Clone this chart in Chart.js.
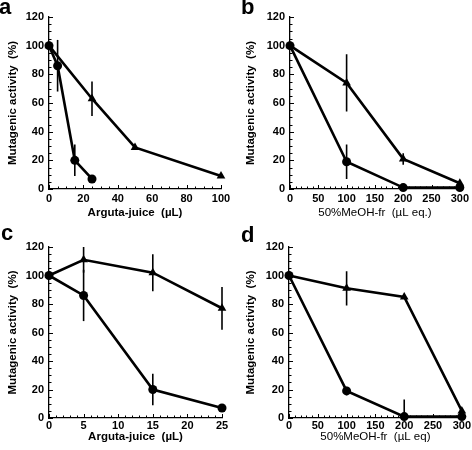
<!DOCTYPE html>
<html>
<head>
<meta charset="utf-8">
<script src="https://cdn.jsdelivr.net/npm/chart.js@4.4.1/dist/chart.umd.min.js"></script>
<style>
  body { margin: 0; background: #fff; }
  #wrap { position: relative; width: 472px; height: 450px; overflow: hidden; }
  canvas { position: absolute; }
  .tag { position: absolute; font: bold 22px "Liberation Sans", Arial, sans-serif; line-height: 22px; color: #000; }
</style>
</head>
<body>
<div id="wrap">
  <canvas id="chartA" width="236" height="225" style="left:0;top:0"></canvas>
  <canvas id="chartB" width="236" height="225" style="left:236px;top:0"></canvas>
  <canvas id="chartC" width="236" height="225" style="left:0;top:225px"></canvas>
  <canvas id="chartD" width="236" height="225" style="left:236px;top:225px"></canvas>
  <div class="tag" style="left:-1px;top:-4px">a</div>
  <div class="tag" style="left:241px;top:-4px">b</div>
  <div class="tag" style="left:1px;top:222px">c</div>
  <div class="tag" style="left:241px;top:224px">d</div>
</div>
<script>
// panel a - Arguta-juice
const aCircleX = [0, 5, 15, 25];
const aCircleY = [100, 86, 20, 7];
const aCircleErr = [0, 18, 11, 0];
const aTriX = [0, 25, 50, 100];
const aTriY = [100, 63, 29, 9];
const aTriErr = [0, 12, 0, 0];

// panel b - 50%MeOH-fr
const bDose = [0, 100, 200, 300];
const bCircleY = [100, 19, 1, 1];
const bCircleErr = [0, 12, 0, 0];
const bTriY = [100, 74, 21, 4];
const bTriErr = [0, 20, 4, 2];

// panel c - Arguta-juice
const cDose = [0, 5, 15, 25];
const cCircleY = [100, 86, 20, 7];
const cCircleErr = [0, 18, 11, 0];
const cTriY = [100, 111, 102, 77];
const cTriErr = [0, 9, 13, 15];

// panel d - 50%MeOH-fr
const dDose = [0, 100, 200, 300];
const dCircleY = [100, 19, 1, 1];
const dCircleErr = [0, 3, 12, 0];
const dTriY = [100, 91, 85, 5];
const dTriErr = [0, 12, 0, 0];

const yTicks = [0, 20, 40, 60, 80, 100, 120];
const yLabel = "Mutagenic activity  (%)";

const FONT = "'Liberation Sans', Arial, sans-serif";

function toPoints(xs, ys) {
    return xs.map((x, i) => ({ x: x, y: ys[i] }));
}

// vertical error bars, no caps
const errorBars = {
    id: "errorBars",
    afterDatasetsDraw(chart) {
        const ctx = chart.ctx;
        const area = chart.chartArea;
        const yScale = chart.scales.y;
        ctx.save();
        ctx.beginPath();
        ctx.rect(area.left - 2, area.top - 10, area.right - area.left + 10, area.bottom - area.top + 10);
        ctx.clip();
        ctx.strokeStyle = "#000";
        ctx.lineWidth = 1.6;
        chart.data.datasets.forEach((ds, di) => {
            const meta = chart.getDatasetMeta(di);
            ds.errors.forEach((err, i) => {
                if (!err) return;
                const p = meta.data[i];
                const v = ds.data[i].y;
                ctx.beginPath();
                ctx.moveTo(p.x, yScale.getPixelForValue(v + err));
                ctx.lineTo(p.x, yScale.getPixelForValue(v - err));
                ctx.stroke();
            });
        });
        ctx.restore();
    }
};

// small tick marks pointing into the plot
const innerTicks = {
    id: "innerTicks",
    afterDraw(chart, args, opts) {
        const ctx = chart.ctx;
        const xs = chart.scales.x;
        const ys = chart.scales.y;
        const area = chart.chartArea;
        ctx.save();
        ctx.strokeStyle = "#000";
        ctx.lineWidth = 1;
        for (let v = xs.min; v <= xs.max + 1e-9; v += opts.xMinor) {
            const major = Math.abs(v / opts.xMajor - Math.round(v / opts.xMajor)) < 1e-6;
            const px = Math.round(xs.getPixelForValue(v)) + 0.5;
            ctx.beginPath();
            ctx.moveTo(px, area.bottom);
            ctx.lineTo(px, area.bottom - (major ? 4 : 2.5));
            ctx.stroke();
        }
        for (let v = ys.min; v <= ys.max + 1e-9; v += opts.yMinor) {
            const major = v % 20 === 0;
            const py = Math.round(ys.getPixelForValue(v)) + 0.5;
            ctx.beginPath();
            ctx.moveTo(area.left, py);
            ctx.lineTo(area.left + (major ? 4 : 2.5), py);
            ctx.stroke();
        }
        ctx.restore();
    }
};

function makePanel(id, p) {
    const lineStyle = {
        showLine: true,
        borderColor: "#000",
        backgroundColor: "#000",
        borderWidth: 2.6,
        pointBorderWidth: 0,
        clip: false
    };

    return new Chart(document.getElementById(id), {
        type: "scatter",
        data: {
            datasets: [
                Object.assign({
                    label: "circle",
                    data: toPoints(p.circleX, p.circleY),
                    errors: p.circleErr,
                    pointStyle: "circle",
                    pointRadius: 4.5
                }, lineStyle),
                Object.assign({
                    label: "triangle",
                    data: toPoints(p.triX, p.triY),
                    errors: p.triErr,
                    pointStyle: "triangle",
                    pointRadius: 5
                }, lineStyle)
            ]
        },
        options: {
            responsive: false,
            animation: false,
            devicePixelRatio: 1,
            layout: { padding: { top: p.top, right: p.right, left: 0, bottom: 0 } },
            plugins: {
                legend: { display: false },
                tooltip: { enabled: false },
                innerTicks: { xMinor: p.xMinor, xMajor: p.xStep, yMinor: 5 }
            },
            scales: {
                x: {
                    type: "linear",
                    min: 0,
                    max: p.xMax,
                    afterFit: (s) => { s.height = p.xHeight; },
                    afterBuildTicks: (s) => { s.ticks = p.xTicks.map(v => ({ value: v })); },
                    grid: { display: false, drawTicks: false },
                    border: { display: true, color: "#000", width: 1.3 },
                    ticks: {
                        color: "#000",
                        padding: p.tickPad,
                        maxRotation: 0,
                        font: { family: FONT, size: 11, weight: "bold" }
                    },
                    title: {
                        display: true,
                        text: p.xTitle,
                        color: "#000",
                        padding: { top: 0, bottom: p.xTitlePad },
                        font: { family: FONT, size: 11.5, weight: p.xTitleWeight }
                    }
                },
                y: {
                    min: 0,
                    max: 120,
                    afterFit: (s) => { s.width = p.left; },
                    afterBuildTicks: (s) => { s.ticks = yTicks.map(v => ({ value: v })); },
                    grid: { display: false, drawTicks: false },
                    border: { display: true, color: "#000", width: 1.3 },
                    ticks: {
                        color: "#000",
                        padding: 5,
                        font: { family: FONT, size: 11, weight: "bold" }
                    },
                    title: {
                        display: true,
                        text: yLabel,
                        color: "#000",
                        padding: { top: p.yTitlePad, bottom: 0 },
                        font: { family: FONT, size: 11.5, weight: "bold" }
                    }
                }
            }
        },
        plugins: [errorBars, innerTicks]
    });
}

makePanel("chartA", {
    circleX: aCircleX, circleY: aCircleY, circleErr: aCircleErr,
    triX: aTriX, triY: aTriY, triErr: aTriErr,
    xMax: 100, xStep: 20, xMinor: 5, xTicks: [0, 20, 40, 60, 80, 100],
    xTitle: "Arguta-juice  (\u00b5L)", xTitleWeight: "bold",
    top: 17, right: 15, left: 49, xHeight: 36, tickPad: 3, xTitlePad: 5, yTitlePad: 6
});

makePanel("chartB", {
    circleX: bDose, circleY: bCircleY, circleErr: bCircleErr,
    triX: bDose, triY: bTriY, triErr: bTriErr,
    xMax: 300, xStep: 50, xMinor: 10, xTicks: [0, 50, 100, 150, 200, 250, 300],
    xTitle: "50%MeOH-fr  (\u00b5L eq.)", xTitleWeight: "normal",
    top: 17, right: 8, left: 54, xHeight: 36, tickPad: 3, xTitlePad: 5, yTitlePad: 8
});

makePanel("chartC", {
    circleX: cDose, circleY: cCircleY, circleErr: cCircleErr,
    triX: cDose, triY: cTriY, triErr: cTriErr,
    xMax: 25, xStep: 5, xMinor: 1, xTicks: [0, 5, 10, 15, 20, 25],
    xTitle: "Arguta-juice  (\u00b5L)", xTitleWeight: "bold",
    top: 22, right: 14, left: 49, xHeight: 32, tickPad: 1, xTitlePad: 6, yTitlePad: 6
});

makePanel("chartD", {
    circleX: dDose, circleY: dCircleY, circleErr: dCircleErr,
    triX: dDose, triY: dTriY, triErr: dTriErr,
    xMax: 300, xStep: 50, xMinor: 10, xTicks: [0, 50, 100, 150, 200, 250, 300],
    xTitle: "50%MeOH-fr  (\u00b5L eq)", xTitleWeight: "normal",
    top: 22, right: 8, left: 53, xHeight: 32, tickPad: 1, xTitlePad: 6, yTitlePad: 8
});
</script>
</body>
</html>
